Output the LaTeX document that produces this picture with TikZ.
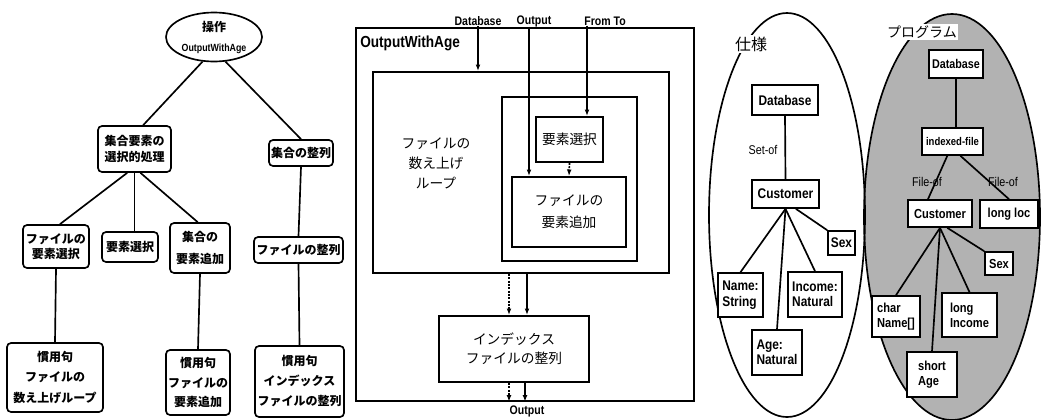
\documentclass[tikz,border=0pt]{standalone}
\usepackage{fontspec}
\newfontfamily\jp{Noto Sans CJK JP}
\newfontfamily\lat{Liberation Sans}[FakeStretch=0.85]
\usetikzlibrary{arrows.meta,shapes.geometric}
\begin{document}
\begin{tikzpicture}[x=0.75pt,y=-0.75pt,
  sz/.style 2 args={minimum width=#1*0.75pt, minimum height=#2*0.75pt},
  ln/.style={line width=1.25pt},
  arr/.style={ln, -{Latex[length=5pt,width=3.6pt]}},
  dots/.style={dash pattern=on 1.5pt off 1pt},
  lbox/.style={draw, ln, rounded corners=3pt, fill=white, inner sep=0pt, align=center,
    font=\jp\bfseries\fontsize{9}{12}\selectfont},
  mbox/.style={draw, ln, inner sep=0pt, align=center, font=\jp\fontsize{10.3}{15.5}\selectfont},
  rbox/.style={draw, ln, fill=white, inner sep=0pt, align=left,
    font=\lat\bfseries\fontsize{10.5}{11.5}\selectfont},
  tlab/.style={inner sep=0pt, font=\lat\bfseries\fontsize{9.3}{10}\selectfont},
  elab/.style={inner sep=0pt, font=\lat\fontsize{9.5}{10}\selectfont}
]
\fill[white] (0,0) rectangle (1042,419);
\useasboundingbox (0,0) rectangle (1042,419);

% ---------------- left tree ----------------
\node[ellipse, draw, ln, sz={96}{49}, inner sep=0pt, align=center] (op) at (214,37)
  {{\jp\bfseries\fontsize{9}{10}\selectfont 操作}\\[3pt]{\lat\bfseries\fontsize{7.8}{9}\selectfont OutputWithAge}};
\node[lbox, sz={73}{46}, font=\jp\bfseries\fontsize{9}{12.5}\selectfont] (n1) at (134.5,149) {集合要素の\\選択的処理};
\node[lbox, sz={64}{26}] (n2) at (301,153) {集合の整列};
\node[lbox, sz={66}{43}, font=\jp\bfseries\fontsize{9}{11.5}\selectfont] (c1) at (56,246.5) {ファイルの\\要素選択};
\node[lbox, sz={56}{30}] (c2) at (130,247) {要素選択};
\node[lbox, sz={60}{50}, font=\jp\bfseries\fontsize{9}{16}\selectfont] (c3) at (200,248) {集合の\\要素追加};
\node[lbox, sz={89}{26}] (c4) at (298.5,250) {ファイルの整列};
\node[lbox, sz={96}{69}, font=\jp\bfseries\fontsize{9}{15.5}\selectfont] (i1) at (55,377.5) {慣用句\\ファイルの\\数え上げループ};
\node[lbox, sz={64}{65}, font=\jp\bfseries\fontsize{9}{14.5}\selectfont] (i2) at (198,382.5) {慣用句\\ファイルの\\要素追加};
\node[lbox, sz={89}{71}, font=\jp\bfseries\fontsize{9}{15}\selectfont] (i3) at (299.5,381.5) {慣用句\\インデックス\\ファイルの整列};

\draw[ln] (op.245) -- (n1.70);
\draw[ln] (op.295) -- (n2.north);
\draw[ln] (n1.253) -- (c1.80);
\draw[ln] (n1.south) -- (n1.south |- c2.north);
\draw[ln] (n1.284) -- (c3.95);
\draw[ln] (c1.south) -- (i1.north);
\draw[ln] (c3.south) -- (i2.north);
\draw[ln] (n2.south) -- (c4.north);
\draw[ln] (c4.south) -- (i3.north);

% ---------------- middle ----------------
\node[draw, ln, sz={338}{373}, inner sep=0pt] (ow) at (525,214.5) {};
\node[anchor=west, inner sep=0pt, font=\lat\bfseries\fontsize{12}{13}\selectfont] (owt) at (360,43) {OutputWithAge};
\node[mbox, sz={296}{201}] (lp) at (521,172.5) {};
\node[inner sep=0pt, align=center, font=\jp\fontsize{10.3}{15}\selectfont] (lpt) at (436,163) {ファイルの\\数え上げ\\ループ};
\node[mbox, sz={135}{164}] (ib) at (569.5,179) {};
\node[mbox, sz={67}{45}] (sel) at (569.5,139.5) {要素選択};
\node[mbox, sz={114}{70}, font=\jp\fontsize{10.3}{16.5}\selectfont] (add) at (569,212) {ファイルの\\要素追加};
\node[mbox, sz={150}{66}, font=\jp\fontsize{10.3}{14.5}\selectfont] (idx) at (514,349) {インデックス\\ファイルの整列};

\node[tlab] (dbl) at (478,21) {Database};
\node[tlab] (outl) at (534,21) {Output};
\node[tlab] (ftl) at (605,21) {From To};
\node[tlab] (outb) at (527,411) {Output};

\draw[arr] (dbl.south) -- (dbl.south |- lp.north);
\draw[arr] ([xshift=-3.75pt]outl.south) -- ([xshift=-3.75pt]outl.south |- add.north);
\draw[arr] ([xshift=-13.5pt]ftl.south) -- ([xshift=-13.5pt]ftl.south |- sel.north);
\draw[arr, dots] (sel.south) -- (add.north);
\draw[arr, dots] ([xshift=-3.75pt]idx.north |- lp.south) -- ([xshift=-3.75pt]idx.north);
\draw[arr] ([xshift=9.75pt]idx.north |- lp.south) -- ([xshift=9.75pt]idx.north);
\draw[arr, dots] ([xshift=-3.75pt]idx.south) -- ([xshift=-3.75pt]idx.south |- ow.south);
\draw[arr] ([xshift=8.25pt]idx.south) -- ([xshift=8.25pt]idx.south |- ow.south);

% ---------------- right ----------------
\node[ellipse, draw, ln, fill=black!30, sz={176}{406}, inner sep=0pt] (prog) at (952,217) {};
\node[ellipse, draw, ln, sz={156}{404}, inner sep=0pt] (spec) at (787,215) {};
\node[fill=white, inner sep=1pt, font=\jp\fontsize{12}{13}\selectfont] (specl) at (751,44) {仕様};
\node[fill=white, inner sep=1pt, font=\jp\fontsize{10.5}{12}\selectfont] (progl) at (922,32) {プログラム};

% spec tree
\node[rbox, sz={66}{30}, align=center] (sdb) at (785,100) {Database};
\node[rbox, sz={67}{28}, align=center] (scu) at (785.5,194) {Customer};
\node[rbox, sz={27}{24}, align=center] (ssex) at (841.5,243) {Sex};
\node[rbox, sz={45}{44}] (sname) at (740.5,295) {Name:\\String};
\node[rbox, sz={54}{45}] (sinc) at (815,294.5) {Income:\\Natural};
\node[rbox, sz={50}{45}] (sage) at (777,352.5) {Age:\\Natural};
\node[elab] (setof) at (763,150) {Set-of};
\draw[ln] (sdb.south) -- (scu.north);
\draw[ln] (scu.south) -- (sname.north);
\draw[ln] (scu.south) -- (sage.north);
\draw[ln] (scu.south) -- (sinc.north);
\draw[ln] (scu.305) -- (ssex.north west);

% program tree
\node[rbox, sz={54}{28}, align=center, font=\lat\bfseries\fontsize{9.5}{10}\selectfont] (pdb) at (956,64) {Database};
\node[rbox, sz={61}{27}, align=center, font=\lat\bfseries\fontsize{8.4}{9}\selectfont] (pif) at (952.5,141.5) {indexed-file};
\node[rbox, sz={64}{27}, align=center, font=\lat\bfseries\fontsize{9.8}{10}\selectfont] (pcu) at (940,213.5) {Customer};
\node[rbox, sz={58}{28}, align=center, font=\lat\bfseries\fontsize{9.8}{10}\selectfont] (ploc) at (1009,214) {long loc};
\node[rbox, sz={28}{23}, align=center, font=\lat\bfseries\fontsize{9.8}{10}\selectfont] (psex) at (999,263.5) {Sex};
\node[rbox, sz={48}{41}, font=\lat\bfseries\fontsize{9.8}{11.5}\selectfont] (pname) at (896,316.5) {char\\Name[]};
\node[rbox, sz={55}{44}, font=\lat\bfseries\fontsize{9.8}{11.5}\selectfont] (pinc) at (969.5,315) {long\\Income};
\node[rbox, sz={50}{45}, font=\lat\bfseries\fontsize{9.8}{11.5}\selectfont] (page) at (932,374.5) {short\\Age};
\node[elab] (fo1) at (927,182) {File-of};
\node[elab] (fo2) at (1003,182) {File-of};
\draw[ln] (pdb.south) -- (pdb.south |- pif.north);
\draw[ln] (pif.250) -- (pcu.130);
\draw[ln] (pif.299) -- (ploc.north);
\draw[ln] (pcu.south) -- (pname.north);
\draw[ln] (pcu.south) -- (page.north);
\draw[ln] (pcu.south) -- (pinc.north);
\draw[ln] (pcu.297) -- (psex.north west);
\end{tikzpicture}
\end{document}
